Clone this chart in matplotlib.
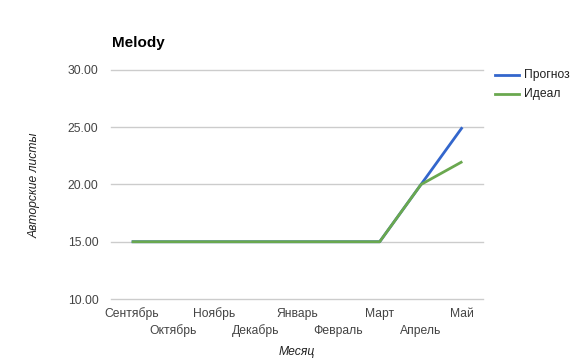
import matplotlib
matplotlib.use("Agg")
import matplotlib.pyplot as plt
from matplotlib.lines import Line2D

plt.rcParams['font.family'] = ['Liberation Sans', 'DejaVu Sans']

months = ["Сентябрь", "Октябрь", "Ноябрь", "Декабрь", "Январь",
          "Февраль", "Март", "Апрель", "Май"]
forecast = [15, 15, 15, 15, 15, 15, 15, 20, 25]
ideal = [15, 15, 15, 15, 15, 15, 15, 20, 22]
y_ticks = [10, 15, 20, 25, 30]

BLUE = "#3366cc"
GREEN = "#6aa84f"
FS = 8.7

W, H = 577, 363
fig = plt.figure(figsize=(W / 100, H / 100), dpi=100)
ax = fig.add_axes([111 / W, (H - 299) / H, 372 / W, 229 / H])

x = list(range(len(months)))
ax.plot(x, forecast, color=BLUE, lw=2, solid_capstyle='butt', zorder=3)
ax.plot(x, ideal, color=GREEN, lw=2, solid_capstyle='butt', zorder=4)

ax.set_xlim(-0.5, len(months) - 0.5)
ax.set_ylim(10, 30)
ax.set_yticks(y_ticks)
ax.set_yticklabels([f"{v:.2f}" for v in y_ticks])
for v in y_ticks:
    ax.axhline(v, color="#cccccc", lw=1, zorder=1, clip_on=False)

for s in ax.spines.values():
    s.set_visible(False)
ax.tick_params(axis='both', length=0, labelsize=FS, colors="#444444")
ax.tick_params(axis='y', pad=9)
ax.set_xticks([])

# staggered month labels
for i, m in enumerate(months):
    yoff = -15 if i % 2 == 0 else -32
    ax.annotate(m, xy=(i, 10), xytext=(0, yoff), textcoords='offset pixels',
                ha='center', va='center', fontsize=FS, color="#444444")

fig.text(297 / W, 1 - 352 / H, "Месяц", ha='center', va='center',
         fontsize=FS, style='italic', color="#222222")
fig.text(35 / W, 1 - 185 / H, "Авторские листы", ha='center', va='center',
         rotation=90, fontsize=FS, style='italic', color="#222222")
fig.text(112 / W, 1 - 43 / H, "Melody", ha='left', va='center',
         fontsize=11, fontweight='bold', color="#000000")

# legend
for j, (lab, col) in enumerate([("Прогноз", BLUE), ("Идеал", GREEN)]):
    yy = 1 - (75 + 19 * j) / H
    fig.add_artist(Line2D([495 / W, 519 / W], [yy, yy], color=col, lw=2))
    fig.text(524 / W, yy, lab, ha='left', va='center', fontsize=FS,
             color="#222222")

fig.savefig("out.png", dpi=100)
